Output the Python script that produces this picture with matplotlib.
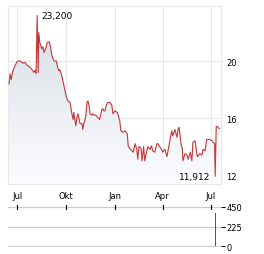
import matplotlib
matplotlib.use("Agg")
import matplotlib.pyplot as plt
import matplotlib.dates as mdates
import numpy as np
import pandas as pd

# price series
dates = [
    "2023-06-16", "2023-06-18", "2023-06-20", "2023-06-23", "2023-06-27", "2023-07-01",
    "2023-07-03", "2023-07-07", "2023-07-12", "2023-07-16", "2023-07-20", "2023-07-25",
    "2023-07-29", "2023-08-02", "2023-08-04", "2023-08-06", "2023-08-08", "2023-08-10",
    "2023-08-11", "2023-08-13", "2023-08-17", "2023-08-19", "2023-08-21", "2023-08-24",
    "2023-08-27", "2023-08-31", "2023-09-02", "2023-09-05", "2023-09-09", "2023-09-13",
    "2023-09-15", "2023-09-18", "2023-09-20", "2023-09-24", "2023-09-28", "2023-10-02",
    "2023-10-05", "2023-10-09", "2023-10-13", "2023-10-15", "2023-10-16", "2023-10-20",
    "2023-10-22", "2023-10-24", "2023-10-28", "2023-11-01", "2023-11-02", "2023-11-04",
    "2023-11-06", "2023-11-08", "2023-11-10", "2023-11-12", "2023-11-14", "2023-11-16",
    "2023-11-19", "2023-11-21", "2023-11-23", "2023-11-25", "2023-11-27", "2023-11-29",
    "2023-12-01", "2023-12-04", "2023-12-08", "2023-12-10", "2023-12-12", "2023-12-14",
    "2023-12-16", "2023-12-18", "2023-12-19", "2023-12-23", "2023-12-27", "2023-12-29",
    "2024-01-02", "2024-01-06", "2024-01-08", "2024-01-10", "2024-01-11", "2024-01-13",
    "2024-01-17", "2024-01-21", "2024-01-25", "2024-01-27", "2024-01-31", "2024-02-03",
    "2024-02-05", "2024-02-09", "2024-02-12", "2024-02-14", "2024-02-16", "2024-02-20",
    "2024-02-22", "2024-02-25", "2024-02-27", "2024-03-02", "2024-03-04", "2024-03-08",
    "2024-03-11", "2024-03-13", "2024-03-17", "2024-03-21", "2024-03-23", "2024-03-26",
    "2024-03-30", "2024-04-01", "2024-04-05", "2024-04-09", "2024-04-11", "2024-04-14",
    "2024-04-18", "2024-04-20", "2024-04-24", "2024-04-28", "2024-04-30", "2024-05-02",
    "2024-05-06", "2024-05-08", "2024-05-09", "2024-05-13", "2024-05-17", "2024-05-19",
    "2024-05-23", "2024-05-26", "2024-05-28", "2024-06-01", "2024-06-05", "2024-06-06",
    "2024-06-10", "2024-06-14", "2024-06-16", "2024-06-20", "2024-06-23", "2024-06-25",
    "2024-06-29", "2024-07-03", "2024-07-05", "2024-07-08", "2024-07-09", "2024-07-11",
    "2024-07-13", "2024-07-16", "2024-07-17",
]
prices = [
    18.4, 19.1, 18.7, 19.3, 19.65, 19.95,
    20.0, 20.0, 19.85, 19.9, 19.7, 19.6,
    19.4, 19.2, 19.35, 19.1, 23.2, 19.2,
    22.0, 21.3, 20.85, 21.0, 20.6, 20.85,
    21.3, 21.35, 21.05, 20.35, 20.0, 20.0,
    19.65, 19.3, 19.4, 18.9, 18.2, 17.5,
    17.2, 17.1, 16.2, 15.9, 16.4, 15.45,
    16.0, 16.3, 15.6, 15.6, 15.2, 15.6,
    15.8, 16.2, 17.1, 17.2, 16.85, 16.3,
    16.2, 16.3, 16.2, 16.2, 16.2, 16.1,
    16.0, 15.9, 16.6, 16.65, 16.5, 16.5,
    16.85, 17.0, 17.1, 17.1, 16.9, 16.3,
    16.5, 16.4, 16.2, 15.9, 15.8, 15.1,
    15.0, 15.1, 14.9, 14.0, 13.8, 13.7,
    13.6, 14.2, 13.8, 13.1, 14.0, 13.9,
    13.0, 14.0, 13.0, 13.7, 14.0, 13.8,
    14.05, 13.7, 13.6, 14.2, 14.2, 14.0,
    13.8, 13.6, 13.8, 13.3, 13.7, 14.3,
    15.1, 14.75, 15.2, 14.65, 15.2, 15.35,
    14.05, 13.9, 13.0, 13.5, 13.4, 13.1,
    13.6, 13.0, 14.3, 14.4, 13.35, 13.3,
    13.5, 13.4, 13.8, 13.7, 14.5, 14.5,
    14.5, 14.4, 14.3, 14.2, 11.912, 15.4,
    15.4, 15.3, 15.25,
]

vol_dates = ["2024-07-09"]
vol_values = [380]

month_ticks = ["2023-07-01", "2023-10-01", "2024-01-01", "2024-04-01", "2024-07-01"]
month_labels = ["Jul", "Okt", "Jan", "Apr", "Jul"]
price_ticks = [12, 16, 20]
vol_ticks = [0, 225, 450]
high_label = "23,200"
low_label = "11,912"

x = pd.to_datetime(dates)
xmin, xmax = pd.Timestamp("2023-06-14"), pd.Timestamp("2024-07-20")
ymin, ymax = 11.37, 23.86
mt = pd.to_datetime(month_ticks)

fig = plt.figure(figsize=(2.64, 2.55), dpi=100)
ax = fig.add_axes([8 / 264, 1 - 185 / 255, 213 / 264, 178 / 255])

grid_c = "#e8e8e8"
ax.set_xlim(xmin, xmax)
ax.set_ylim(ymin, ymax)
ax.set_xticks(mt)
ax.set_xticklabels(month_labels)
ax.set_yticks(price_ticks)
ax.grid(True, color=grid_c, linewidth=0.8)
ax.set_axisbelow(True)
for s in ax.spines.values():
    s.set_color(grid_c)
    s.set_linewidth(0.8)
ax.yaxis.tick_right()
ax.tick_params(axis="both", length=0, labelsize=6, colors="black")
ax.tick_params(axis="y", pad=4)
ax.tick_params(axis="x", pad=5)

# gradient fill under the line, clipped to the area below the prices
poly = ax.fill_between(x, prices, ymin, color="none")
grad = np.linspace(1, 0, 256).reshape(-1, 1)
top_c = np.array([0.83, 0.86, 0.89])
bot_c = np.array([0.99, 0.99, 1.0])
img = bot_c + (top_c - bot_c) * grad[..., None]
im = ax.imshow(img, aspect="auto", origin="upper",
               extent=[mdates.date2num(xmin), mdates.date2num(xmax), ymin, ymax], zorder=1)
im.set_clip_path(poly.get_paths()[0], transform=ax.transData)
ax.plot(x, prices, color="#c0393b", linewidth=0.8, zorder=3)

imax = int(np.argmax(prices))
imin = int(np.argmin(prices))
ax.annotate(high_label, xy=(x[imax], prices[imax]), xytext=(4, 0), textcoords="offset pixels",
            ha="left", va="center", fontsize=6.5)
ax.annotate(low_label, xy=(x[imin], prices[imin]), xytext=(-5, 0), textcoords="offset pixels",
            ha="right", va="center", fontsize=6.5)

# volume panel
axv = fig.add_axes([8 / 264, 1 - 248 / 255, 213 / 264, 41 / 255])
axv.set_xlim(xmin, xmax)
axv.set_ylim(-10, 460)
axv.bar(pd.to_datetime(vol_dates), vol_values, width=1.9, color="#2a7a1a", zorder=3)
for v in vol_ticks:
    axv.axhline(v, color="#cccccc", linewidth=0.9, zorder=1)
for s in axv.spines.values():
    s.set_visible(False)
axv.set_yticks(vol_ticks)
axv.yaxis.tick_right()
axv.tick_params(axis="y", length=3, width=0.8, pad=1, labelsize=6, colors="black")
axv.set_xticks(mt)
axv.tick_params(axis="x", bottom=False, top=False, labelbottom=False)
for t in mt:
    axv.plot([t, t], [430, 470], color="black", linewidth=0.8, clip_on=False, zorder=4)

fig.savefig("out.png", dpi=100)
